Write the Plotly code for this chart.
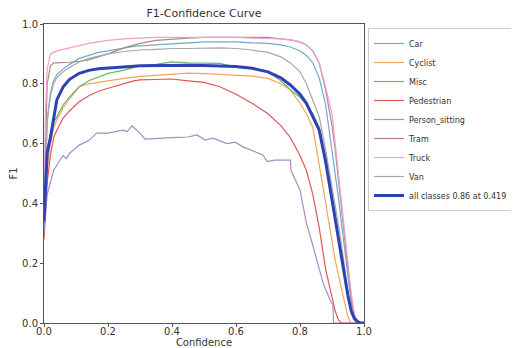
import plotly.graph_objects as go

conf = [0, 0.005, 0.01, 0.02, 0.03, 0.04, 0.06, 0.08, 0.11, 0.14, 0.17, 0.2, 0.25, 0.28, 0.3,
        0.35, 0.4, 0.45, 0.5, 0.55, 0.6, 0.65, 0.7, 0.74, 0.77, 0.8, 0.82, 0.84, 0.86, 0.88,
        0.9, 0.91, 0.92, 0.93, 0.94, 0.95, 0.96, 0.97, 0.98, 0.99, 1.0]

car = [0.35, 0.55, 0.68, 0.77, 0.81, 0.83, 0.85, 0.865, 0.885, 0.895, 0.905, 0.91, 0.92, 0.925, 0.927,
       0.93, 0.935, 0.937, 0.94, 0.94, 0.94, 0.937, 0.935, 0.93, 0.923, 0.91, 0.895, 0.87, 0.82, 0.73,
       0.58, 0.50, 0.42, 0.33, 0.24, 0.15, 0.07, 0.02, 0.0, 0.0, 0.0]
cyclist = [0.30, 0.42, 0.52, 0.60, 0.65, 0.68, 0.72, 0.75, 0.79, 0.80, 0.806, 0.81, 0.818, 0.823, 0.825,
           0.828, 0.832, 0.836, 0.834, 0.832, 0.83, 0.826, 0.818, 0.80, 0.78, 0.735, 0.70, 0.655, 0.53, 0.40,
           0.27, 0.21, 0.16, 0.11, 0.06, 0.02, 0.0, 0.0, 0.0, 0.0, 0.0]
misc = [0.32, 0.45, 0.55, 0.63, 0.67, 0.69, 0.73, 0.756, 0.79, 0.81, 0.822, 0.835, 0.846, 0.855, 0.86,
        0.865, 0.873, 0.87, 0.87, 0.868, 0.855, 0.852, 0.84, 0.81, 0.78, 0.755, 0.73, 0.70, 0.655, 0.56,
        0.43, 0.36, 0.29, 0.22, 0.15, 0.09, 0.04, 0.01, 0.0, 0.0, 0.0]
pedestrian = [0.28, 0.38, 0.47, 0.56, 0.62, 0.645, 0.685, 0.71, 0.74, 0.76, 0.775, 0.785, 0.80, 0.81, 0.813,
              0.815, 0.816, 0.81, 0.805, 0.79, 0.765, 0.735, 0.70, 0.66, 0.62, 0.56, 0.51, 0.43, 0.32, 0.18,
              0.08, 0.04, 0.01, 0.0, 0.0, 0.0, 0.0, 0.0, 0.0, 0.0, 0.0]
tram = [0.40, 0.65, 0.80, 0.86, 0.87, 0.87, 0.87, 0.872, 0.875, 0.88, 0.89, 0.90, 0.92, 0.93, 0.935,
        0.945, 0.95, 0.953, 0.955, 0.955, 0.956, 0.957, 0.955, 0.95, 0.947, 0.94, 0.93, 0.91, 0.87, 0.78,
        0.66, 0.58, 0.48, 0.38, 0.28, 0.17, 0.08, 0.02, 0.0, 0.0, 0.0]
truck = [0.45, 0.72, 0.85, 0.90, 0.905, 0.91, 0.915, 0.92, 0.93, 0.935, 0.94, 0.945, 0.95, 0.953, 0.953,
         0.955, 0.955, 0.957, 0.957, 0.955, 0.955, 0.953, 0.952, 0.95, 0.947, 0.94, 0.93, 0.91, 0.87, 0.79,
         0.70, 0.60, 0.50, 0.42, 0.32, 0.20, 0.10, 0.03, 0.005, 0.0, 0.0]
van = [0.35, 0.55, 0.67, 0.76, 0.80, 0.82, 0.84, 0.855, 0.873, 0.885, 0.893, 0.90, 0.908, 0.912, 0.913,
       0.915, 0.918, 0.918, 0.92, 0.92, 0.918, 0.913, 0.905, 0.89, 0.87, 0.84, 0.80, 0.745, 0.69, 0.58,
       0.46, 0.40, 0.33, 0.26, 0.18, 0.10, 0.04, 0.01, 0.0, 0.0, 0.0]
all_classes = [0.34, 0.48, 0.57, 0.62, 0.69, 0.746, 0.79, 0.815, 0.835, 0.845, 0.85, 0.853, 0.858, 0.859, 0.86,
               0.861, 0.862, 0.862, 0.861, 0.86, 0.858, 0.852, 0.84, 0.82, 0.796, 0.765, 0.735, 0.69, 0.645, 0.54,
               0.41, 0.35, 0.29, 0.23, 0.16, 0.09, 0.04, 0.015, 0.005, 0.0, 0.0]

sit_conf = [0, 0.005, 0.01, 0.02, 0.03, 0.05, 0.06, 0.07, 0.08, 0.11, 0.14, 0.165, 0.2, 0.247, 0.26,
            0.275, 0.29, 0.3, 0.316, 0.35, 0.4, 0.45, 0.478, 0.503, 0.528, 0.572, 0.597, 0.622, 0.65, 0.684,
            0.697, 0.72, 0.77, 0.772, 0.8, 0.82, 0.84, 0.853, 0.872, 0.894, 0.903, 0.905, 1.0]
person_sitting = [0.30, 0.38, 0.43, 0.47, 0.51, 0.545, 0.56, 0.55, 0.568, 0.595, 0.61, 0.635, 0.635, 0.645, 0.64,
                  0.659, 0.645, 0.635, 0.615, 0.618, 0.62, 0.622, 0.629, 0.612, 0.618, 0.60, 0.605, 0.589, 0.578, 0.562,
                  0.54, 0.545, 0.545, 0.51, 0.445, 0.334, 0.26, 0.21, 0.134, 0.077, 0.06, 0.0, 0.0]

names = ["Car", "Cyclist", "Misc", "Pedestrian", "Person_sitting", "Tram", "Truck", "Van"]
colors = ["#74a9cf", "#f5a55a", "#6ab56a", "#e0575a", "#a58dc6", "#b08a80", "#ee9fcf", "#a8a8a8"]
series = [car, cyclist, misc, pedestrian, person_sitting, tram, truck, van]
xs = [conf, conf, conf, conf, sit_conf, conf, conf, conf]

fig = go.Figure()
for n, c, s, x in zip(names, colors, series, xs):
    fig.add_trace(go.Scatter(x=x, y=s, mode="lines", name=n, line=dict(color=c, width=1.2)))
fig.add_trace(go.Scatter(x=conf, y=all_classes, mode="lines", name="all classes 0.86 at 0.419",
                         line=dict(color="#2d43b5", width=3)))

axis_common = dict(range=[0, 1], showgrid=False, zeroline=False, showline=True, mirror=True,
                   linecolor="#555555", linewidth=1, ticks="outside", ticklen=3, tickcolor="#555555",
                   tickformat=".1f", dtick=0.2, tick0=0, tickfont=dict(size=10, color="#333333"),
                   automargin=False)

W, H = 511, 340
fig.update_layout(
    width=W, height=H,
    margin=dict(l=36, r=155, t=16, b=25),
    paper_bgcolor="white", plot_bgcolor="white",
    font=dict(family="DejaVu Sans", size=10, color="#333333"),
    title=dict(text="F1-Confidence Curve", x=196 / W, xanchor="center", y=1 - 5 / H,
               yanchor="middle", font=dict(size=11, color="#333333")),
    xaxis=dict(axis_common, ticklabelstandoff=-4,
               title=dict(text="Confidence", font=dict(size=10), standoff=0)),
    yaxis=dict(axis_common, title=dict(text="F1", font=dict(size=10), standoff=6)),
    legend=dict(xref="container", yref="container", x=360 / W, y=1 - 20 / H,
                xanchor="left", yanchor="top", bgcolor="white", maxheight=300,
                bordercolor="#cccccc", borderwidth=1, font=dict(size=8, color="#333333"),
                tracegroupgap=0, itemwidth=30),
    showlegend=True,
)

fig.write_html("out.html")
